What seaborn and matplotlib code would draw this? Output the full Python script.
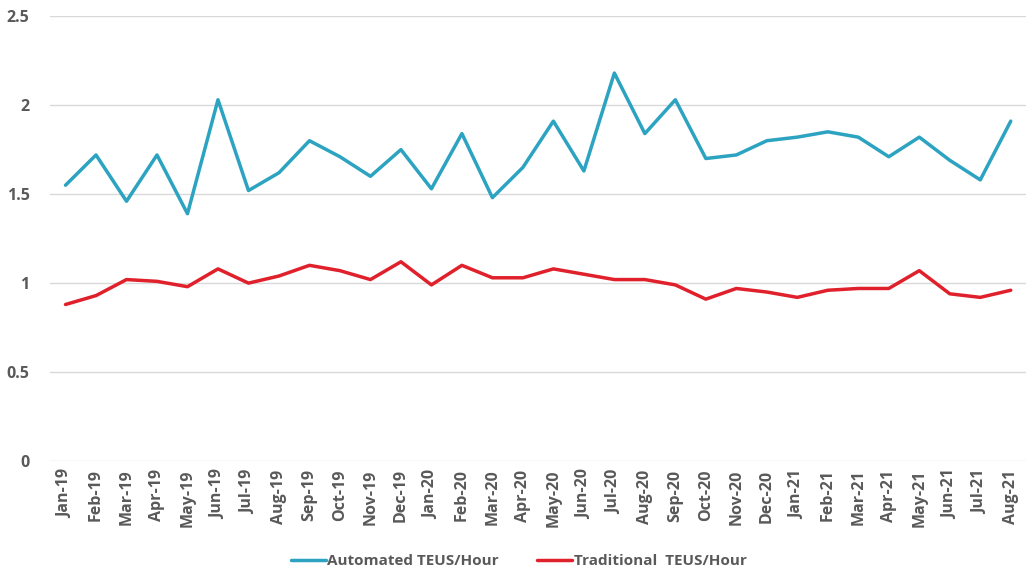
import pandas as pd
import seaborn as sns
import matplotlib.pyplot as plt

# Monthly data
months = ["Jan-19", "Feb-19", "Mar-19", "Apr-19", "May-19", "Jun-19", "Jul-19", "Aug-19",
          "Sep-19", "Oct-19", "Nov-19", "Dec-19", "Jan-20", "Feb-20", "Mar-20", "Apr-20",
          "May-20", "Jun-20", "Jul-20", "Aug-20", "Sep-20", "Oct-20", "Nov-20", "Dec-20",
          "Jan-21", "Feb-21", "Mar-21", "Apr-21", "May-21", "Jun-21", "Jul-21", "Aug-21"]
automated = [1.55, 1.72, 1.46, 1.72, 1.39, 2.03, 1.52, 1.62,
             1.80, 1.71, 1.60, 1.75, 1.53, 1.84, 1.48, 1.65,
             1.91, 1.63, 2.18, 1.84, 2.03, 1.70, 1.72, 1.80,
             1.82, 1.85, 1.82, 1.71, 1.82, 1.69, 1.58, 1.91]
traditional = [0.88, 0.93, 1.02, 1.01, 0.98, 1.08, 1.00, 1.04,
               1.10, 1.07, 1.02, 1.12, 0.99, 1.10, 1.03, 1.03,
               1.08, 1.05, 1.02, 1.02, 0.99, 0.91, 0.97, 0.95,
               0.92, 0.96, 0.97, 0.97, 1.07, 0.94, 0.92, 0.96]
series_names = ["Automated TEUS/Hour", "Traditional  TEUS/Hour"]

df = pd.DataFrame({"Month": months * 2,
                   "Value": automated + traditional,
                   "Series": [series_names[0]] * len(months) + [series_names[1]] * len(months)})
df["x"] = list(range(len(months))) * 2

sns.set_style("white")
plt.rcParams["font.family"] = ["Open Sans", "DejaVu Sans"]
grey = "#595959"

fig = plt.figure(figsize=(10.26, 5.75), dpi=100)
ax = fig.add_axes([0.049, 0.198, 0.951, 0.774])

sns.lineplot(data=df, x="x", y="Value", hue="Series", palette=["#2CA3C1", "#E0202B"],
             linewidth=2.5, ax=ax, legend=True)

ax.set_xlim(-0.5, len(months) - 0.5)
ax.set_ylim(0, 2.5)
ax.set_yticks([0, 0.5, 1, 1.5, 2, 2.5])
ax.set_yticklabels(["0", "0.5", "1", "1.5", "2", "2.5"])
ax.set_xticks(range(len(months)))
ax.set_xticklabels(months, rotation=90)
ax.tick_params(axis="both", length=0, labelcolor=grey, labelsize=11.5)
ax.tick_params(axis="x", pad=6)
ax.tick_params(axis="y", pad=15)
for lab in ax.get_xticklabels() + ax.get_yticklabels():
    lab.set_fontweight("bold")

ax.grid(axis="y", color="#D9D9D9", linewidth=1)
ax.set_axisbelow(True)
for s in ax.spines.values():
    s.set_visible(False)
ax.set_xlabel("")
ax.set_ylabel("")

ax.legend(loc="center", bbox_to_anchor=(0.48, -0.225), ncol=2, frameon=False,
          handlelength=2.3, handletextpad=0.1, columnspacing=2.5,
          prop={"weight": "bold", "size": 11}, labelcolor=grey)

fig.savefig("out.png", dpi=100)
